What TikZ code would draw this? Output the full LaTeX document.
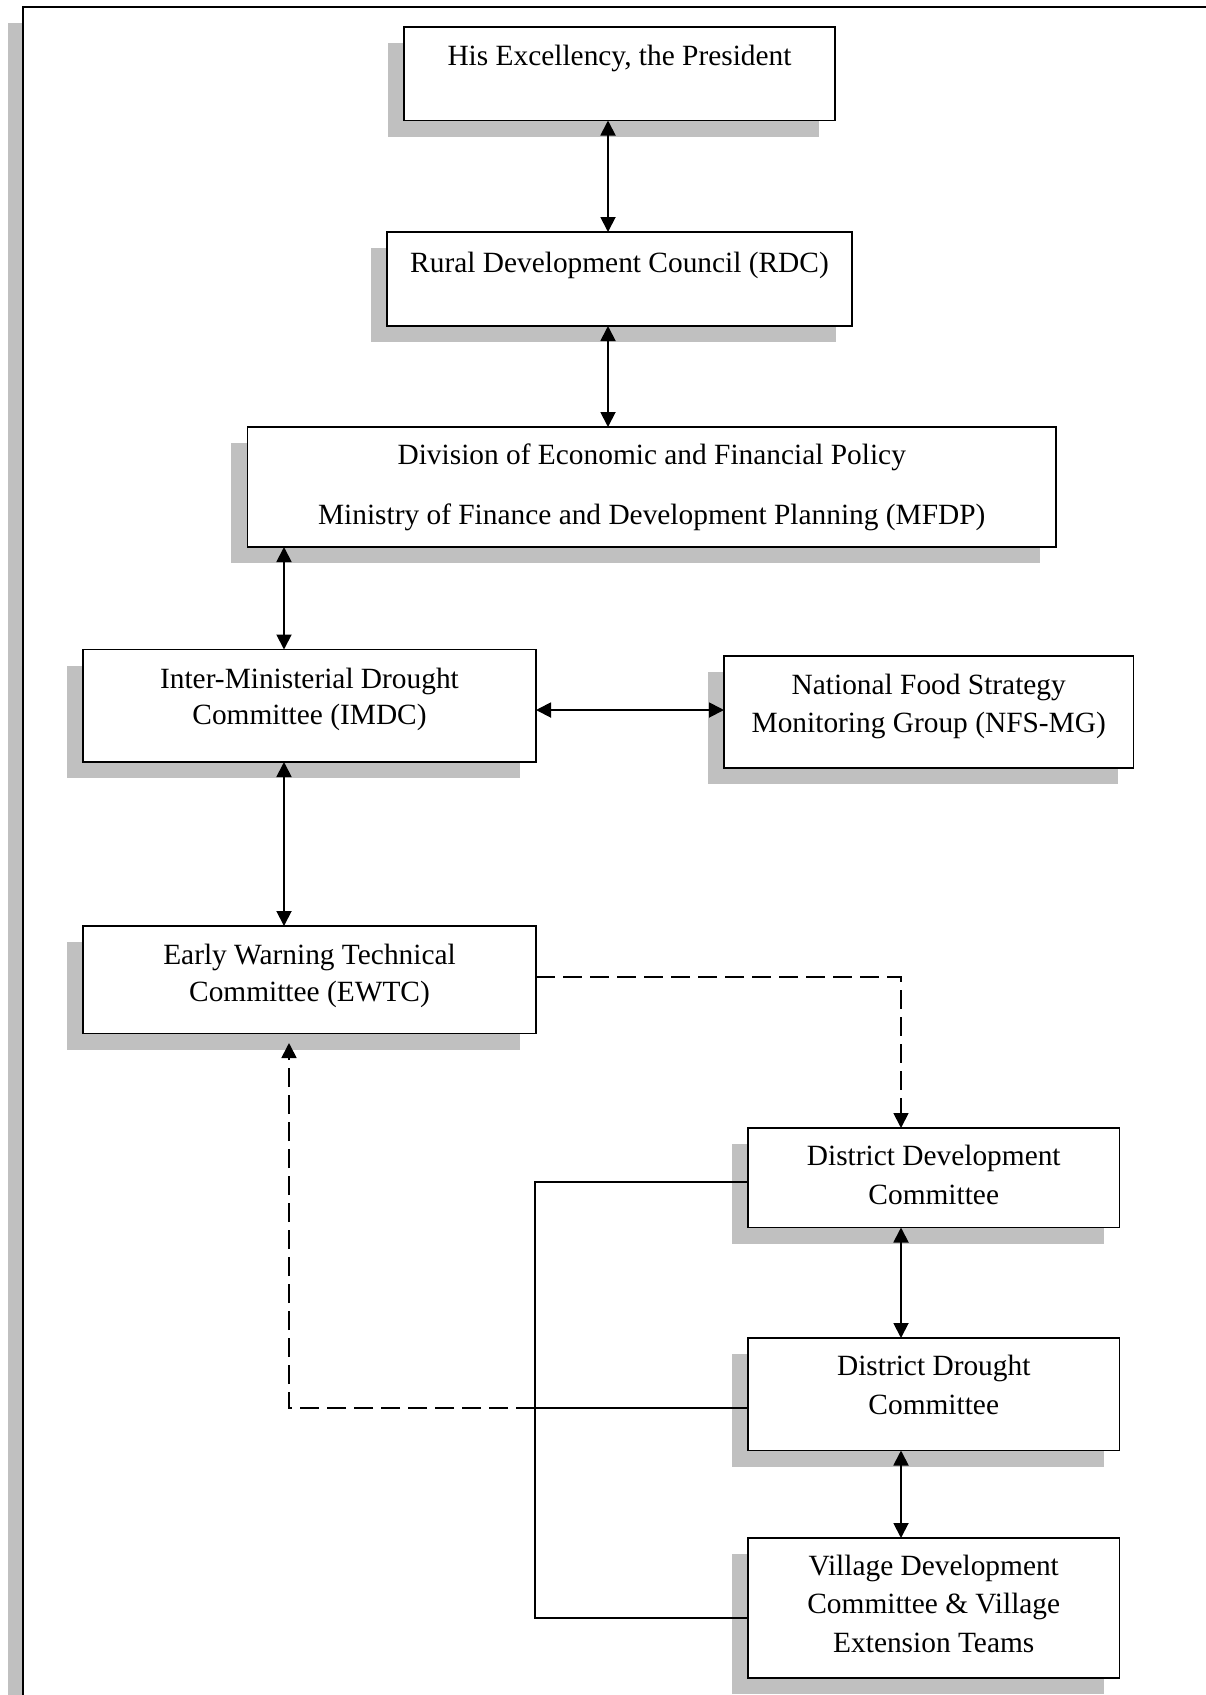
\documentclass[tikz,border=0pt]{standalone}
\usepackage{fontspec}
\setmainfont{Liberation Serif}
\usetikzlibrary{arrows.meta,shadows}
\definecolor{shadowgray}{RGB}{192,192,192}
\begin{document}
\begin{tikzpicture}[x=0.4pt,y=-0.4pt,
  box/.style={draw=black, line width=0.75pt, fill=white, inner sep=0pt, outer sep=0pt,
    drop shadow={shadow xshift=-6.4pt, shadow yshift=-6.4pt, fill=shadowgray, opacity=1}},
  txt/.style={anchor=base, inner sep=0pt, font=\fontsize{11.75}{14}\selectfont},
  tip/.tip={Triangle[length=6pt,width=6pt]},
  conn/.style={line width=0.75pt, tip-tip},
  plain/.style={line width=0.7pt},
  dashline/.style={line width=0.7pt, dash pattern=on 7.5pt off 3.3pt}]
\clip (0,0) rectangle (1206,1695);
% outer frame with shadow
\fill[shadowgray] (8,23) rectangle (1300,1800);
\draw[line width=0.8pt, fill=white] (23,7) rectangle (1300,1800);
% columns and rows
\coordinate (colA) at (608,0);
\coordinate (colB) at (284,0);
\coordinate (colC) at (901,0);
\coordinate (colD) at (535,0);
\coordinate (colE) at (289,0);
\coordinate (rowA) at (0,710);
\coordinate (rowB) at (0,977);
\coordinate (rowC) at (0,1408);
\coordinate (rowD) at (0,1182);
\coordinate (rowE) at (0,1618);
% boxes
\node[box, minimum width=172.4pt, minimum height=37.4pt] (pres) at (619.5,73.75) {};
\node[box, minimum width=186pt, minimum height=37.6pt] (rdc) at (619.5,279) {};
\node[box, minimum width=323.4pt, minimum height=48pt] (mfdp) at (651.75,487) {};
\node[box, minimum width=181.2pt, minimum height=45pt] (imdc) at (309.5,705.75) {};
\node[box, minimum width=163.8pt, minimum height=44.8pt] (nfs) at (928.75,712) {};
\node[box, minimum width=181.2pt, minimum height=43pt] (ewtc) at (309.5,979.75) {};
\node[box, minimum width=148.6pt, minimum height=39.8pt] (ddc) at (933.75,1177.75) {};
\node[box, minimum width=148.6pt, minimum height=45pt] (ddr) at (933.75,1394.25) {};
\node[box, minimum width=148.6pt, minimum height=56pt] (vil) at (933.75,1608) {};
% texts
\node[txt] (prest) at (619.5,65) {His Excellency, the President};
\node[txt] (rdct) at (619.5,272) {Rural Development Council (RDC)};
\node[txt] (mfdpa) at (651.75,464) {Division of Economic and Financial Policy};
\node[txt] (mfdpb) at (651.75,524) {Ministry of Finance and Development Planning (MFDP)};
\node[txt] (imdca) at (309.5,688) {Inter-Ministerial Drought};
\node[txt] (imdcb) at (309.5,724) {Committee (IMDC)};
\node[txt] (nfsa) at (928.75,694) {National Food Strategy};
\node[txt] (nfsb) at (928.75,732) {Monitoring Group (NFS-MG)};
\node[txt] (ewtca) at (309.5,964) {Early Warning Technical};
\node[txt] (ewtcb) at (309.5,1001) {Committee (EWTC)};
\node[txt] (ddca) at (933.75,1165) {District Development};
\node[txt] (ddcb) at (933.75,1204) {Committee};
\node[txt] (ddra) at (933.75,1375) {District Drought};
\node[txt] (ddrb) at (933.75,1414) {Committee};
\node[txt] (vila) at (933.75,1575) {Village Development};
\node[txt] (vilb) at (933.75,1613) {Committee \& Village};
\node[txt] (vilc) at (933.75,1652) {Extension Teams};
% connectors
\draw[conn] (pres.south -| colA) -- (rdc.north -| colA);
\draw[conn] (rdc.south -| colA) -- (mfdp.north -| colA);
\draw[conn] (mfdp.south -| colB) -- (imdc.north -| colB);
\draw[conn] (imdc.east |- rowA) -- (nfs.west |- rowA);
\draw[conn] (imdc.south -| colB) -- (ewtc.north -| colB);
\draw[dashline, -tip] (ewtc.east |- rowB) -| (ddc.north -| colC);
\draw[conn] (ddc.south -| colC) -- (ddr.north -| colC);
\draw[conn] (ddr.south -| colC) -- (vil.north -| colC);
\draw[plain] (ddr.west |- rowC) -- (colD |- rowC);
\draw[dashline, -tip, shorten >=3.8pt] (colD |- rowC) -| (ewtc.south -| colE);
\draw[plain] (ddc.west |- rowD) -| (colD |- rowE) -- (vil.west |- rowE);
\end{tikzpicture}
\end{document}
